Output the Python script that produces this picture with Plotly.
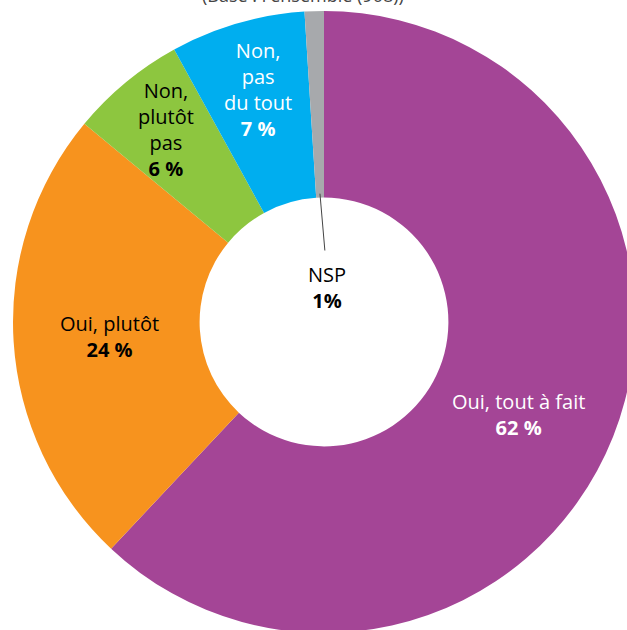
import numpy as np
import plotly.graph_objects as go

labels = ["Oui, tout à fait", "Oui, plutôt", "Non, plutôt pas", "Non, pas du tout", "NSP"]
values = [62, 24, 6, 7, 1]
colors = ["#A44596", "#F7931E", "#8DC63F", "#00AEEF", "#A7A9AC"]
label_texts = [
    "Oui, tout à fait<br><b>62 %</b>",
    "Oui, plutôt<br><b>24 %</b>",
    "Non,<br>plutôt<br>pas<br><b>6 %</b>",
    "Non,<br>pas<br>du tout<br><b>7 %</b>",
    "NSP<br><b>1%</b>",
]
label_colors = ["white", "black", "black", "white", "black"]

W, H = 650, 650
cx, cy, R = 324, 322, 311
hole = 0.40
FONT = "Open Sans"
FS = 20

fig = go.Figure(go.Pie(
    labels=labels, values=values, sort=False, direction="clockwise",
    rotation=0, hole=hole, textinfo="none", hoverinfo="label+percent",
    marker=dict(colors=colors, line=dict(width=0)),
    domain=dict(x=[(cx - R) / W, (cx + R) / W], y=[1 - (cy + R) / H, 1 - (cy - R) / H]),
    showlegend=False,
))

# (x centre, y centre of the text block) in pixels
pos = [(518, 414), (109, 336), (166, 129), (258, 90)]
for i, (px, py) in enumerate(pos):
    fig.add_annotation(x=px / W, y=1 - py / H, xref="paper", yref="paper",
                       text=label_texts[i], showarrow=False,
                       font=dict(family=FONT, size=FS, color=label_colors[i]),
                       align="center", yanchor="middle", xanchor="center")

# NSP label with leader line to the middle of the gray slice
frac = np.cumsum(values) / np.sum(values)
mid = (frac[-2] + frac[-1]) / 2 * 2 * np.pi
hx = cx + (R * hole + 4) * np.sin(mid)
hy = cy - (R * hole + 4) * np.cos(mid)
fig.add_annotation(x=hx / W, y=1 - hy / H, xref="paper", yref="paper",
                   text="", showarrow=True, arrowhead=0, arrowwidth=1,
                   arrowcolor="#444", ax=325 - hx, ay=252 - hy)
fig.add_annotation(x=327 / W, y=1 - 287 / H, xref="paper", yref="paper",
                   text=label_texts[4], showarrow=False,
                   font=dict(family=FONT, size=FS, color=label_colors[4]),
                   align="center", yanchor="middle", xanchor="center")

fig.add_annotation(x=303 / W, y=1 - 9 / H, xref="paper", yref="paper",
                   text="(Base : l'ensemble (908))", showarrow=False,
                   font=dict(family=FONT, size=18, color="#444"),
                   yanchor="bottom", xanchor="center")

fig.update_layout(width=W, height=H, margin=dict(l=0, r=0, t=0, b=0),
                  paper_bgcolor="white", plot_bgcolor="white")
fig.write_html("out.html")
